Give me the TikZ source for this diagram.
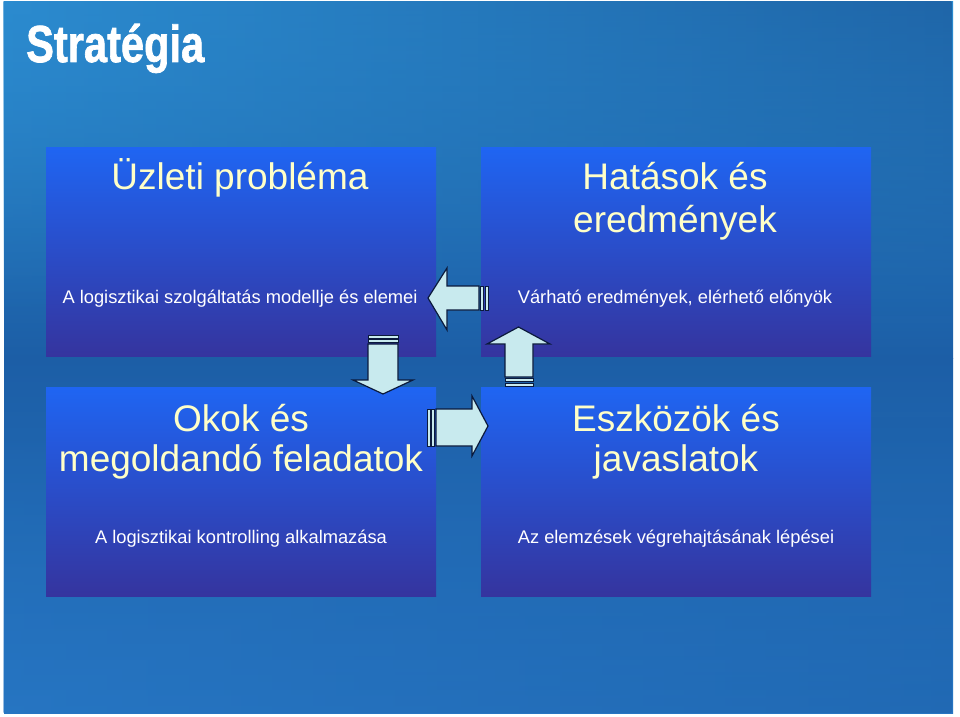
\documentclass[tikz,border=0pt]{standalone}
\usepackage{fontspec}
\usetikzlibrary{fadings}
\setmainfont{Liberation Sans}
\newfontfamily\titlefont[FakeBold=1.5]{Liberation Sans Bold}
\definecolor{bgtop}{HTML}{2B8BCF}
\definecolor{bgdark}{HTML}{1A5698}
\definecolor{bgmid}{HTML}{1C5EA6}
\definecolor{bgbot}{HTML}{2675C2}
\definecolor{boxtop}{HTML}{1F65F2}
\definecolor{boxbot}{HTML}{35349E}
\definecolor{headtxt}{HTML}{FFFFC8}
\definecolor{arrfill}{HTML}{C8EAEE}
\definecolor{arrline}{HTML}{0B1A3C}
\tikzfading[name=fadedown, top color=transparent!30, bottom color=transparent!100]
\tikzfading[name=fadeup, top color=transparent!100, bottom color=transparent!50]
\tikzset{
  panel/.style={top color=boxtop, bottom color=boxbot, draw=none, inner sep=0pt,
    minimum width=390pt, minimum height=209pt, anchor=south west},
  headline/.style={text=headtxt, font=\fontsize{37}{40}\selectfont, anchor=base, inner sep=0pt},
  subline/.style={text=white, font=\fontsize{18.3}{21}\selectfont, anchor=base, inner sep=0pt},
  blockarrow/.style={fill=arrfill, draw=arrline, line width=1.2pt, line join=miter},
}
\begin{document}
\begin{tikzpicture}[x=1pt,y=1pt]
\useasboundingbox (0,0) rectangle (960,716);
% frame and background
\fill[white] (0,0) rectangle (960,716);
\shade[top color=bgtop, bottom color=bgmid] (4,358) rectangle (953,714);
\shade[top color=bgmid, bottom color=bgbot] (4,3) rectangle (953,358);
\shade[left color=bgtop, right color=bgdark, path fading=fadedown] (4,400) rectangle (953,714);
\shade[left color=bgbot, right color=bgmid, path fading=fadeup] (4,3) rectangle (953,300);
% title
\node[text=white, anchor=base west, inner sep=0pt] (title) at (26,654)
  {\scalebox{0.8}[1]{\fontsize{52}{56}\selectfont\titlefont Stratégia}};
% panels
\node[panel] (p1) at (46,359) {};
\node[panel] (p2) at (481,359) {};
\node[panel] (p3) at (46,119) {};
\node[panel] (p4) at (481,119) {};
% arrows
% left arrow (p2 -> p1)
\draw[blockarrow] (479,430) -- (447,430) -- (447,448) -- (428,418) -- (447,386) -- (447,406) -- (479,406) -- cycle;
\draw[blockarrow, line width=1pt] (480.5,406) rectangle (483.5,430);
\draw[blockarrow, line width=1pt] (485,406) rectangle (488,430);
% down arrow (p1 -> p3)
\draw[blockarrow] (368,372) -- (368,336) -- (353,336) -- (383,322) -- (413,336) -- (398,336) -- (398,372) -- cycle;
\draw[blockarrow, line width=1pt] (368,373.5) rectangle (398,376.5);
\draw[blockarrow, line width=1pt] (368,378) rectangle (398,381);
% up arrow (p4 -> p2)
\draw[blockarrow] (505,339) -- (505,372) -- (487,372) -- (518.5,389) -- (550,372) -- (533,372) -- (533,339) -- cycle;
\draw[blockarrow, line width=1pt] (505,334.5) rectangle (533,337.5);
\draw[blockarrow, line width=1pt] (505,330) rectangle (533,333);
% right arrow (p3 -> p4)
\draw[blockarrow] (436,307) -- (472,307) -- (472,320) -- (488,290) -- (472,260) -- (472,270) -- (436,270) -- cycle;
\draw[blockarrow, line width=1pt] (427,270) rectangle (430,307);
\draw[blockarrow, line width=1pt] (431.5,270) rectangle (434.5,307);
% texts
\node[headline] (t1) at (240,526) {Üzleti probléma};
\node[subline] (s1) at (240,413) {A logisztikai szolgáltatás modellje és elemei};
\node[headline] (t2a) at (675,526) {Hatások és};
\node[headline] (t2b) at (675,483) {eredmények};
\node[subline] (s2) at (675,413) {Várható eredmények, elérhető előnyök};
\node[headline] (t3a) at (241,285) {Okok és};
\node[headline] (t3b) at (241,245) {megoldandó feladatok};
\node[subline] (s3) at (241,173) {A logisztikai kontrolling alkalmazása};
\node[headline] (t4a) at (676,285) {Eszközök és};
\node[headline] (t4b) at (676,245) {javaslatok};
\node[subline] (s4) at (676,173) {Az elemzések végrehajtásának lépései};
\end{tikzpicture}
\end{document}
